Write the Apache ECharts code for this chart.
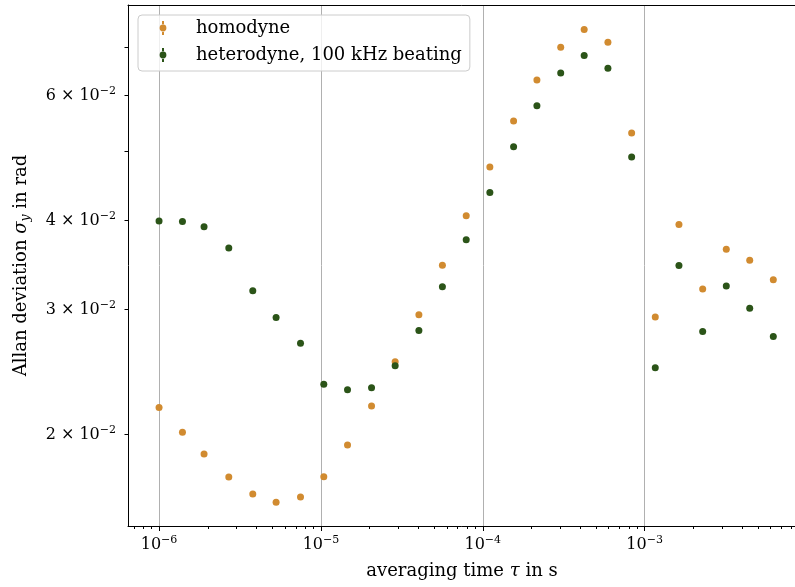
<!DOCTYPE html>
<html><head><meta charset="utf-8">
<script src="https://cdn.jsdelivr.net/npm/echarts@6/dist/echarts.min.js"></script>
<style>html,body{margin:0;padding:0;background:#fff}#c{width:795px;height:587px}</style>
</head><body><div id="c"></div>
<script>
const seriesNames = ['homodyne', 'heterodyne, 100 kHz beating'];
const tau = [1.000e-6, 1.395e-6, 1.897e-6, 2.697e-6, 3.794e-6, 5.286e-6, 7.48e-6, 1.042e-5, 1.46e-5, 2.055e-5, 2.875e-5, 4.03e-5, 5.63e-5, 7.90e-5, 1.106e-4, 1.55e-4, 2.16e-4, 3.03e-4, 4.23e-4, 5.93e-4, 8.31e-4, 1.163e-3, 1.629e-3, 2.283e-3, 3.194e-3, 4.457e-3, 6.235e-3];
const homodyne = [0.02178, 0.02011, 0.01874, 0.01740, 0.01646, 0.01603, 0.01630, 0.01741, 0.01930, 0.02190, 0.02526, 0.02942, 0.03456, 0.04055, 0.04749, 0.05514, 0.06297, 0.07000, 0.07420, 0.07114, 0.05304, 0.02922, 0.03942, 0.03198, 0.03640, 0.03512, 0.03296];
const heterodyne = [0.03986, 0.03980, 0.03914, 0.03652, 0.03182, 0.02916, 0.02684, 0.02350, 0.02308, 0.02322, 0.02494, 0.02796, 0.03222, 0.03752, 0.04374, 0.05072, 0.05795, 0.06442, 0.06820, 0.06540, 0.04906, 0.02478, 0.03452, 0.02788, 0.03230, 0.03006, 0.02742];
const xMajorTicks = [1e-6, 1e-5, 1e-4, 1e-3];
const xTickExponents = ['−6', '−5', '−4', '−3'];
const xMinorTicks = [7e-7, 8e-7, 9e-7,
  2e-6, 3e-6, 4e-6, 5e-6, 6e-6, 7e-6, 8e-6, 9e-6,
  2e-5, 3e-5, 4e-5, 5e-5, 6e-5, 7e-5, 8e-5, 9e-5,
  2e-4, 3e-4, 4e-4, 5e-4, 6e-4, 7e-4, 8e-4, 9e-4,
  2e-3, 3e-3, 4e-3, 5e-3, 6e-3, 7e-3, 8e-3];
const yLabelTicks = [0.02, 0.03, 0.04, 0.06];
const yTickMantissas = ['2', '3', '4', '6'];
const yAllTicks = [0.02, 0.03, 0.04, 0.05, 0.06, 0.07];

const FONT = 'DejaVu Serif';
const orange = '#d18b30';
const green = '#2b5418';
const legendIcon = 'path://M0,0L0.01,0L0.01,0.01Z M45,20L44.99,20L44.99,19.99Z M16,3L18,3L18,6.9L16,6.9Z M16,13.1L18,13.1L18,17L16,17Z M13.6,10A3.4,3.4 0 1,0 20.4,10A3.4,3.4 0 1,0 13.6,10Z';

const supRich = {
  b: {fontFamily: FONT, fontSize: 16, color: '#000', verticalAlign: 'bottom'},
  sup: {fontFamily: FONT, fontSize: 11, color: '#000', verticalAlign: 'bottom', padding: [0, 0, 7, 0]}
};

const chart = echarts.init(document.getElementById('c'), null, {renderer: 'canvas'});
chart.setOption({
  animation: false,
  backgroundColor: '#fff',
  grid: {left: 128, top: 5, right: -1, bottom: 61, outerBoundsMode: 'none', containLabel: false},
  legend: {
    orient: 'vertical', left: 138, top: 15,
    padding: [3, 8, 6, 8], itemGap: 7, itemWidth: 45, itemHeight: 20,
    backgroundColor: 'rgba(255,255,255,0.8)', borderColor: '#cccccc', borderWidth: 1, borderRadius: 4,
    textStyle: {fontFamily: FONT, fontSize: 18, color: '#000'},
    selectedMode: false,
    data: [{name: seriesNames[0], icon: legendIcon}, {name: seriesNames[1], icon: legendIcon}]
  },
  xAxis: [
    {
      type: 'log', min: 6.43e-7, max: 8.61e-3, position: 'bottom',
      axisLine: {show: true, lineStyle: {color: '#000', width: 1}},
      axisTick: {show: true, length: 5, customValues: xMajorTicks, lineStyle: {color: '#000', width: 1}},
      axisLabel: {
        show: true, margin: 9, customValues: xMajorTicks,
        formatter: function (v) {
          const i = xMajorTicks.findIndex(t => Math.abs(Math.log10(t) - Math.log10(v)) < 1e-6);
          return '{b|10}{sup|' + xTickExponents[i] + '}';
        },
        rich: supRich
      },
      splitLine: {show: true, lineStyle: {color: '#b0b0b0', width: 1}},
      name: 'averaging time {i|τ} in s', nameLocation: 'middle', nameGap: 36,
      nameTextStyle: {fontFamily: FONT, fontSize: 18, color: '#000',
        rich: {i: {fontFamily: FONT, fontSize: 18, fontStyle: 'italic', color: '#000'}}}
    },
    {
      type: 'log', min: 6.43e-7, max: 8.61e-3, position: 'bottom',
      axisLine: {show: false},
      axisTick: {show: true, length: 3, customValues: xMinorTicks, lineStyle: {color: '#000', width: 1}},
      axisLabel: {show: false},
      splitLine: {show: false}
    },
    {
      type: 'log', min: 6.43e-7, max: 8.61e-3, position: 'top',
      axisLine: {show: true, lineStyle: {color: '#000', width: 1}},
      axisTick: {show: false}, axisLabel: {show: false}, splitLine: {show: false}
    }
  ],
  yAxis: {
    type: 'log', min: 0.01484, max: 0.0803,
    axisLine: {show: true, lineStyle: {color: '#000', width: 1}},
    axisTick: {show: true, length: 3.5, customValues: yAllTicks, lineStyle: {color: '#000', width: 1}},
    axisLabel: {
      show: true, margin: 12, customValues: yLabelTicks,
      formatter: function (v) {
        const i = yLabelTicks.findIndex(t => Math.abs(t - v) < 1e-9);
        return '{b|' + yTickMantissas[i] + ' × 10}{sup|−2}';
      },
      rich: supRich
    },
    splitLine: {show: false},
    name: 'Allan deviation {i|σ}{sub|y} in rad', nameLocation: 'middle', nameGap: 96, nameRotate: 90,
    nameTextStyle: {fontFamily: FONT, fontSize: 18, color: '#000',
      rich: {
        n: {fontFamily: FONT, fontSize: 18, color: '#000'},
        i: {fontFamily: FONT, fontSize: 18, fontStyle: 'italic', color: '#000'},
        sub: {fontFamily: FONT, fontSize: 12.5, fontStyle: 'italic', color: '#000', padding: [8, 0, 0, 0]}
      }}
  },
  series: [
    {name: seriesNames[0], type: 'scatter', xAxisIndex: 0, symbol: 'circle', symbolSize: 7,
     itemStyle: {color: orange, opacity: 1}, data: tau.map((t, i) => [t, homodyne[i]])},
    {name: seriesNames[1], type: 'scatter', xAxisIndex: 0, symbol: 'circle', symbolSize: 7,
     itemStyle: {color: green, opacity: 1}, data: tau.map((t, i) => [t, heterodyne[i]])}
  ]
});
</script></body></html>
